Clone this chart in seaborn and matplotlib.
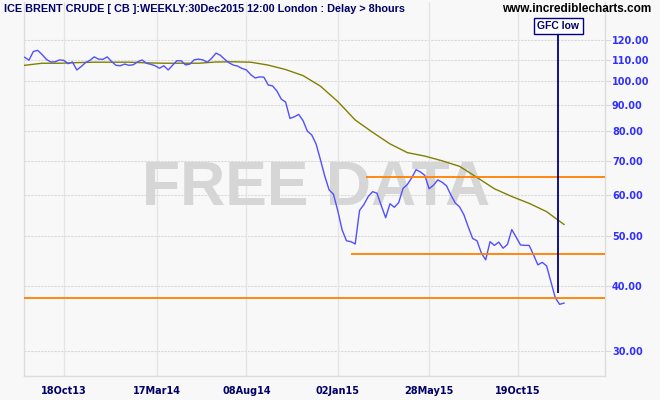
import numpy as np
import pandas as pd
import seaborn as sns
import matplotlib.pyplot as plt
import matplotlib.dates as mdates
from matplotlib.ticker import FixedLocator, NullLocator, FuncFormatter

# weekly closes (first week 16Aug13, last week 01Jan16)
close = [111.1, 109.7, 114.0, 114.6, 112.5, 110.1, 108.8, 108.9, 109.8, 109.6,
         108.0, 108.8, 105.0, 106.6, 108.5, 109.6, 111.3, 110.2, 110.1, 111.3,
         109.0, 107.2, 107.0, 107.8, 107.2, 107.5, 108.9, 109.8, 108.2, 107.7,
         107.0, 105.8, 107.0, 105.0, 107.2, 109.4, 109.4, 107.4, 107.8, 109.9,
         110.2, 109.8, 108.7, 110.6, 113.2, 112.1, 110.1, 108.4, 107.3, 106.8,
         105.7, 105.0, 102.8, 101.3, 101.8, 101.7, 98.2, 97.8, 95.6, 92.2,
         91.0, 84.6, 85.2, 86.1, 83.8, 79.9, 78.6, 75.5, 70.4, 65.4,
         61.5, 60.3, 56.0, 51.4, 49.0, 48.8, 48.3, 56.1, 57.6, 59.7,
         61.0, 60.6, 57.3, 54.3, 57.8, 56.9, 58.1, 61.9, 63.0, 64.9,
         67.3, 66.6, 65.6, 61.8, 62.8, 64.3, 63.6, 62.6, 60.1, 58.0,
         57.0, 55.0, 52.1, 49.5, 49.0, 46.4, 45.0, 48.8, 48.0, 48.7,
         47.4, 48.2, 51.5, 49.8, 48.1, 48.0, 48.0, 46.0, 44.0, 44.5,
         43.8, 40.8, 38.0, 36.9, 37.1]

# moving average, read every 4th week
ma_week = [0, 4, 8, 12, 16, 20, 24, 28, 32, 36, 40, 44, 48, 52, 56, 60,
           64, 68, 72, 76, 80, 84, 88, 92, 96, 100, 104, 108, 112, 116, 120, 124]
ma_value = [107.2, 108.2, 108.2, 108.5, 108.7, 108.7, 108.7, 108.4, 108.2, 108.2,
            108.2, 108.8, 108.9, 108.7, 107.3, 105.2, 102.4, 97.7, 91.2, 84.0,
            79.5, 75.5, 72.6, 71.5, 70.0, 68.3, 65.0, 61.8, 59.7, 57.9, 55.8, 52.7]

tick_dates = ['2013-10-18', '2014-03-17', '2014-08-08', '2015-01-02', '2015-05-28', '2015-10-19']
tick_labels = ['18Oct13', '17Mar14', '08Aug14', '02Jan15', '28May15', '19Oct15']
y_ticks = [30, 40, 50, 60, 70, 80, 90, 100, 110, 120]

# horizontal support/resistance lines: level, start date
levels = [65.0, 46.1, 38.0]
level_start = ['2015-02-16', '2015-01-23', '2013-08-15']
gfc_date = '2015-12-23'
gfc_bottom = 38.8

dates = pd.date_range('2013-08-16', periods=len(close), freq='7D')
df = pd.DataFrame({'date': dates, 'close': close})
df_ma = pd.DataFrame({'date': dates[ma_week], 'ma': ma_value})

bg = '#f8f8f8'
fig = plt.figure(figsize=(6.6, 4.0), dpi=100, facecolor=bg)
ax = fig.add_axes([24 / 660, 24 / 400, 581 / 660, 374 / 400])
ax.set_facecolor(bg)
plt.rcParams['font.family'] = ['Liberation Sans', 'DejaVu Sans']

ax.set_yscale('log')
ax.set_ylim(26.8, 142.2)
ax.set_xlim(pd.Timestamp('2013-08-15'), pd.Timestamp('2016-03-07'))

# grid
for v in y_ticks:
    ax.axhline(v, color='#d9d9d9', lw=0.8, ls=(0, (2, 1)), zorder=0)
for d in tick_dates:
    ax.axvline(pd.Timestamp(d), color='#e4e4e4', lw=1.0, zorder=0)

# watermark
ax.text(0.503, 0.5, 'FREE DATA', transform=ax.transAxes, fontsize=45, fontweight='bold',
        color='#d6d6d6', ha='center', va='center', zorder=1, family='Liberation Sans')

sns.lineplot(data=df_ma, x='date', y='ma', ax=ax, color='#808000', lw=1.0, zorder=3)
sns.lineplot(data=df, x='date', y='close', ax=ax, color='#5050ff', lw=1.0, zorder=4)

for lv, st in zip(levels, level_start):
    ax.hlines(lv, pd.Timestamp(st), pd.Timestamp('2016-03-07'), color='#ff8000', lw=1.3, zorder=5)

ax.vlines(pd.Timestamp(gfc_date), gfc_bottom, 124, color='#000080', lw=1.3, zorder=6)
ax.text(pd.Timestamp(gfc_date), 127.8, 'GFC low', ha='center', va='center', fontsize=7.5,
        fontweight='bold', color='#000066', zorder=7,
        bbox=dict(boxstyle='square,pad=0.3', fc='white', ec='#000080', lw=1.0))

ax.xaxis.set_major_locator(FixedLocator([mdates.date2num(pd.Timestamp(d)) for d in tick_dates]))
ax.set_xticklabels(tick_labels)
ax.yaxis.set_major_locator(FixedLocator(y_ticks))
ax.yaxis.set_minor_locator(NullLocator())
ax.yaxis.set_major_formatter(FuncFormatter(lambda v, p: f'{v:.2f}'))
ax.yaxis.tick_right()
ax.tick_params(axis='y', length=4, color='#d9d9d9', labelcolor='#3030ff', labelsize=7, pad=1)
ax.tick_params(axis='x', length=0, labelcolor='#000066', labelsize=7, pad=7)
for lab in ax.get_xticklabels() + ax.get_yticklabels():
    lab.set_fontweight('bold')
ax.set_xlabel('')
ax.set_ylabel('')

for s in ['left', 'right', 'bottom']:
    ax.spines[s].set_color('#dddddd')
    ax.spines[s].set_linewidth(1.0)
ax.spines['top'].set_visible(False)

fig.text(4 / 660, 1 - 9 / 400, 'ICE BRENT CRUDE [ CB ]:WEEKLY:30Dec2015 12:00 London : Delay > 8hours',
         fontsize=7.8, fontweight='bold', color='#000066', ha='left', va='center')
fig.text(651 / 660, 1 - 9 / 400, 'www.incrediblecharts.com', fontsize=8.5, fontweight='bold',
         color='black', ha='right', va='center')

fig.savefig('out.png', dpi=100, facecolor=bg)
